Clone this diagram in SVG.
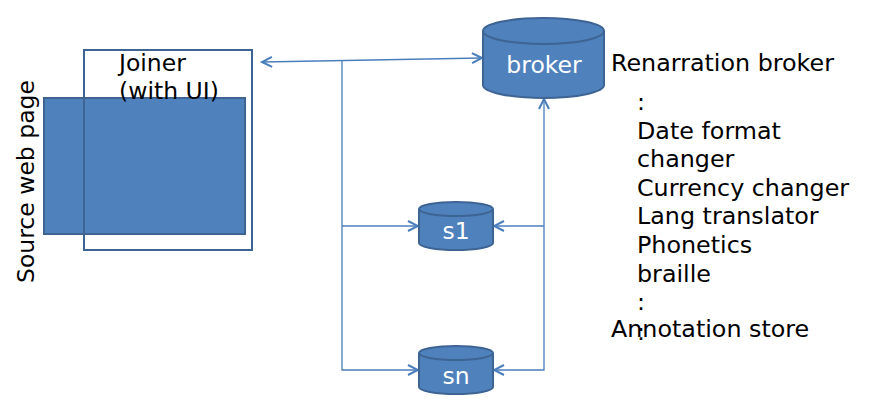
<svg xmlns="http://www.w3.org/2000/svg" width="894" height="413" viewBox="0 0 894 413">
<style>
text{font-family:"DejaVu Sans","Liberation Sans",sans-serif;font-size:23.5px;fill:#000}
#notes text{font-size:23.8px}
.w{fill:#fff;text-anchor:middle}
.cyl{fill:#4F81BD;stroke:#3E6494;stroke-width:2}
.conn{fill:none;stroke:#4A7EBB;stroke-width:1.3}
</style>
<defs>
<marker id="arr" viewBox="-12 -7 14 14" refX="0" refY="0" markerWidth="14" markerHeight="14" markerUnits="userSpaceOnUse" orient="auto-start-reverse">
<path d="M-10,-5 L0,0 L-10,5" fill="none" stroke="#4A7EBB" stroke-width="2"/>
</marker>
</defs>
<g id="source-page">
<rect x="44" y="98" width="201" height="136" fill="#4F81BD" stroke="#3E6494" stroke-width="2"/>
<text transform="translate(34,283) rotate(-90)">Source web page</text>
</g>
<g id="joiner">
<rect x="84" y="50" width="168" height="200" fill="none" stroke="#3E6494" stroke-width="2"/>
<text x="119" y="71">Joiner</text>
<text x="119" y="99">(with UI)</text>
</g>
<g id="connectors">
<path class="conn" d="M262,62 L482,58" marker-start="url(#arr)" marker-end="url(#arr)"/>
<path class="conn" d="M342,61 V370 H418" marker-end="url(#arr)"/>
<path class="conn" d="M342,226 H418" marker-end="url(#arr)"/>
<path class="conn" d="M544,99 V370 H494" marker-start="url(#arr)" marker-end="url(#arr)"/>
<path class="conn" d="M544,226 H494" marker-end="url(#arr)"/>
</g>
<g id="broker">
<path class="cyl" d="M483,31 A60.5,13 0 0 1 604,31 V85 A60.5,13 0 0 1 483,85 Z"/>
<path class="cyl" d="M483,31 A60.5,13 0 0 0 604,31"/>
<text class="w" x="544" y="73">broker</text>
</g>
<g id="s1">
<path class="cyl" d="M419,209 A37,7 0 0 1 493,209 V243 A37,7 0 0 1 419,243 Z"/>
<path class="cyl" d="M419,209 A37,7 0 0 0 493,209"/>
<text class="w" x="456" y="239">s1</text>
</g>
<g id="sn">
<path class="cyl" d="M419,353 A37,7 0 0 1 493,353 V387 A37,7 0 0 1 419,387 Z"/>
<path class="cyl" d="M419,353 A37,7 0 0 0 493,353"/>
<text class="w" x="456" y="384">sn</text>
</g>
<g id="notes">
<text x="611" y="71">Renarration broker</text>
<text x="637" y="110">:</text>
<text x="637" y="138.6">Date format</text>
<text x="637" y="167.2">changer</text>
<text x="637" y="195.8">Currency changer</text>
<text x="637" y="224.4">Lang translator</text>
<text x="637" y="253">Phonetics</text>
<text x="637" y="281.6">braille</text>
<text x="637" y="310.2">:</text>
<text x="611" y="337">Annotation store</text>
<text x="637" y="339.5">:</text>
</g>
</svg>
